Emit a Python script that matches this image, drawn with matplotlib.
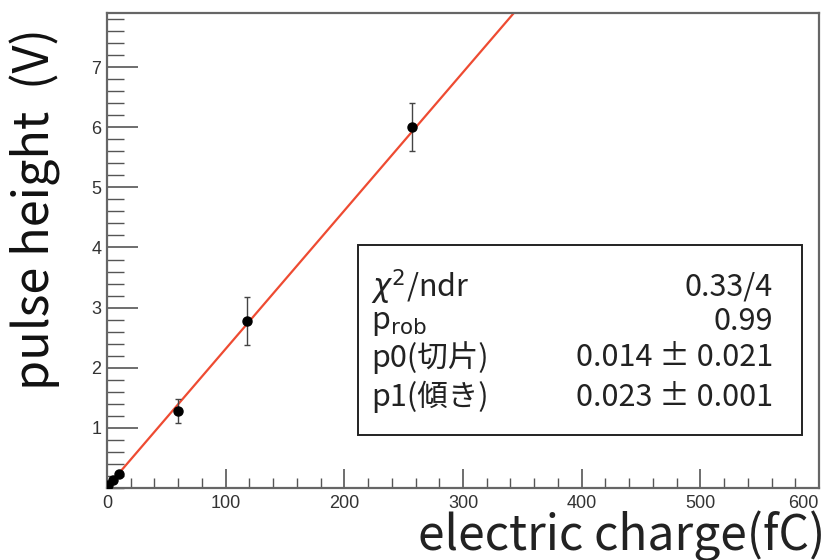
import numpy as np
import matplotlib.pyplot as plt
from matplotlib.ticker import MultipleLocator

plt.rcParams['font.family'] = ['Noto Sans CJK JP', 'DejaVu Sans']
plt.rcParams['mathtext.fontset'] = 'dejavusans'

# measured points
charge = [1, 5, 10, 60, 118, 257]          # fC
height = [0.05, 0.13, 0.24, 1.28, 2.78, 6.0]  # V
height_err = [0.02, 0.02, 0.03, 0.2, 0.4, 0.4]

# fit result  (pulse = p0 + p1*charge)
p0, p0_err = 0.014, 0.021
p1, p1_err = 0.023, 0.001
chi2, ndf, prob = 0.33, 4, 0.99

xticks = [0, 100, 200, 300, 400, 500, 600]
yticks = [1, 2, 3, 4, 5, 6, 7]

fig = plt.figure(figsize=(8.28, 5.6), dpi=100)
ax = fig.add_axes([107/828, 1-488/560, (819-107)/828, (488-13)/560])

xfit = np.linspace(0, 600, 601)
ax.plot(xfit, p0 + p1*xfit, color='#ee4b32', lw=1.6, zorder=2)
ax.errorbar(charge, height, yerr=height_err, fmt='o', color='black', ms=6.5,
            ecolor='#444444', elinewidth=1.0, capsize=2.5, capthick=1.0, zorder=3)

ax.set_xlim(0, 600)
ax.set_ylim(0, 7.9)
ax.set_xticks(xticks, [str(v) for v in xticks])
ax.set_yticks(yticks, [str(v) for v in yticks])
ax.xaxis.set_minor_locator(MultipleLocator(20))
ax.yaxis.set_minor_locator(MultipleLocator(0.2))
ax.tick_params(axis='x', which='major', direction='in', length=14, width=1.2, color='#555555',
               labelsize=13, labelcolor='#333333', pad=5)
ax.tick_params(axis='x', which='minor', direction='in', length=7, width=1.0, color='#555555')
ax.tick_params(axis='y', which='major', direction='in', length=22, width=1.2, color='#555555',
               labelsize=13, labelcolor='#333333', pad=4)
ax.tick_params(axis='y', which='minor', direction='in', length=12, width=1.0, color='#555555')
for s in ax.spines.values():
    s.set_color('#666666')
    s.set_linewidth(1.6)

fig.text(825/828, 1-550/560, 'electric charge(fC)', ha='right', va='baseline', fontsize=34.5, color='#222222')
fig.text(10/828, 1-28/560, 'pulse height  (V)', ha='left', va='top', rotation=90,
         fontsize=35, color='#111111')

# stats box
box = plt.Rectangle((358/828, 1-435/560), (802-358)/828, (435-245)/560, transform=fig.transFigure,
                    fill=False, edgecolor='#222222', lw=1.4)
fig.add_artist(box)
fs = 22
rows = [(r'$\chi^2$/ndr', '%.2f/%d' % (chi2, ndf), 287),
        ('p$_{\\rm rob}$', '%.2f' % prob, 322),
        ('p0(切片)', '%.3f ± %.3f' % (p0, p0_err), 358),
        ('p1(傾き)', '%.3f ± %.3f' % (p1, p1_err), 397)]
for left, right, yc in rows:
    fig.text(371/828, 1-yc/560, left, ha='left', va='center', fontsize=fs, color='#222222')
    fig.text(773/828, 1-yc/560, right, ha='right', va='center', fontsize=fs, color='#222222')

fig.canvas.draw()
for lab in ax.get_xticklabels() + ax.get_yticklabels():
    lab.set_family('Liberation Sans')
ax.get_xticklabels()[-1].set_horizontalalignment('right')

fig.savefig('out.png', dpi=100)
